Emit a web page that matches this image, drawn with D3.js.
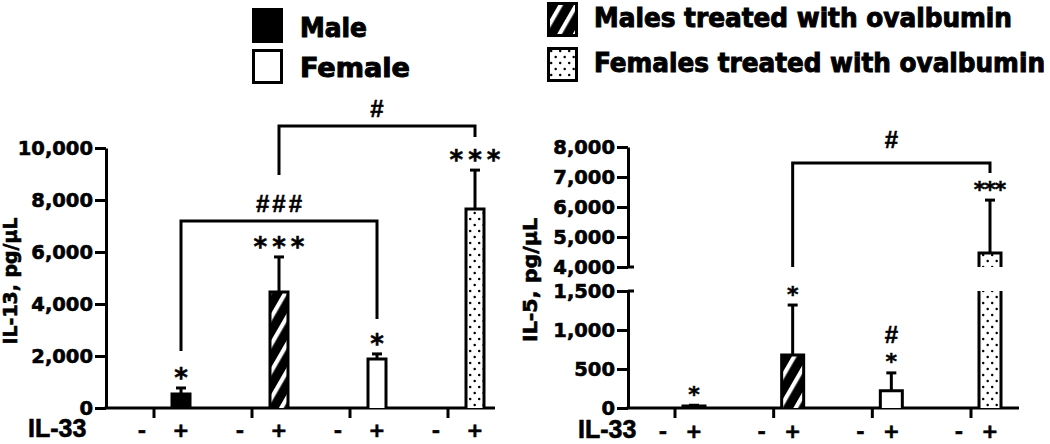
<!DOCTYPE html>
<html><head><meta charset="utf-8">
<script src="https://cdn.jsdelivr.net/npm/d3@7"></script>
<style>body{margin:0;background:#fff}svg{display:block}</style>
</head><body>
<svg id="c" width="1050" height="444"></svg>
<script>
// ---------------- DATA ----------------
const groups = ["Male", "Males treated with ovalbumin", "Female", "Females treated with ovalbumin"];
const il33Levels = ["-", "+"];

const il13Minus = [0, 0, 0, 0];
const il13Plus = [540, 4460, 1880, 7650];
const il13PlusErr = [230, 1350, 200, 1500];
const il13Sig = [["*"], ["***"], ["*"], ["***"]];
const il13Ticks = [0, 2000, 4000, 6000, 8000, 10000];

const il5Minus = [0, 0, 0, 0];
const il5Plus = [25, 680, 220, 4470];
const il5PlusErr = [10, 640, 230, 1760];
const il5Sig = [["*"], ["*"], ["*", "#"], ["***"]];
const il5LowTicks = [0, 500, 1000, 1500];
const il5HighTicks = [4000, 5000, 6000, 7000, 8000];

// comparison brackets (values in data units)
const il13Brackets = [
  {from: 0, to: 2, at: 7190, legFrom: 2190, legTo: 3420, label: "###"},
  {from: 1, to: 3, at: 10850, legFrom: 8960, legTo: 10420, label: "#"}
];
const il5Brackets = [
  {from: 1, to: 3, at: 7467, legFrom: 4000, legTo: 7133, label: "#"}
];

// ---------------- STYLE ----------------
const DV = "'DejaVu Sans', sans-serif";
const DVC = "'DejaVu Sans Condensed', 'DejaVu Sans', sans-serif";
const LB = "'Liberation Sans', Arial, sans-serif";
const groupFill = {
  "Male": "#000",
  "Males treated with ovalbumin": "url(#hatch)",
  "Female": "#fff",
  "Females treated with ovalbumin": "url(#dots)"
};

const svg = d3.select("#c");
const defs = svg.append("defs");
const hp = defs.append("pattern").attr("id", "hatch").attr("patternUnits", "userSpaceOnUse")
  .attr("width", 13.5).attr("height", 13.5).attr("patternTransform", "rotate(-60)");
hp.append("rect").attr("width", 13.5).attr("height", 13.5).attr("fill", "#000");
hp.append("rect").attr("y", 0).attr("width", 13.5).attr("height", 4.2).attr("fill", "#fff");
const dp = defs.append("pattern").attr("id", "dots").attr("patternUnits", "userSpaceOnUse")
  .attr("width", 9).attr("height", 12);
dp.append("rect").attr("width", 9).attr("height", 12).attr("fill", "#fff");
dp.append("circle").attr("cx", 2.2).attr("cy", 3).attr("r", 1.25).attr("fill", "#000");
dp.append("circle").attr("cx", 6.7).attr("cy", 9).attr("r", 1.25).attr("fill", "#000");

// ---------------- LEGEND ----------------
const legendLayout = [
  {sx: 252, sy: 8, tx: 300, ty: 37, tl: 67},
  {sx: 547, sy: 2, tx: 594, ty: 27, tl: 418},
  {sx: 252, sy: 49, tx: 300, ty: 77, tl: 110},
  {sx: 547, sy: 47, tx: 594, ty: 72, tl: 451}
];
groups.forEach((grp, i) => {
  const L = legendLayout[i];
  svg.append("rect").attr("x", L.sx + 1.5).attr("y", L.sy + 1.5).attr("width", 28).attr("height", 32)
    .attr("fill", groupFill[grp]).attr("stroke", "#000").attr("stroke-width", 3);
  svg.append("text").attr("x", L.tx).attr("y", L.ty).text(grp)
    .attr("font-family", DVC).attr("font-stretch", "condensed").attr("font-weight", "bold").attr("font-size", 26)
    .attr("stroke", "#000").attr("stroke-width", 0.9)
    .attr("textLength", L.tl).attr("lengthAdjust", "spacingAndGlyphs").attr("fill", "#000");
});

// ---------------- PANELS ----------------
function drawPanel(cfg) {
  const g = svg.append("g");
  const xg = d3.scalePoint().domain(groups).range(cfg.tickRange);
  const xi = d3.scalePoint().domain(il33Levels).range([0, cfg.plusOffset]);
  const bx = (grp, lvl) => xg(grp) + xi(lvl);
  const segs = cfg.segments;
  const yv = v => {
    for (const s of segs) if (v >= s.lo && v <= s.hi) return s.scale(v);
    return segs[segs.length - 1].scale(v);
  };

  // y axes (one per segment)
  segs.forEach(s => {
    const ax = g.append("g").attr("transform", `translate(${cfg.axisX},0)`)
      .call(d3.axisLeft(s.scale).tickValues(s.ticks).tickFormat(d3.format(","))
        .tickSize(11).tickSizeOuter(0).tickPadding(2));
    ax.select(".domain").attr("stroke", "#000").attr("stroke-width", 3);
    ax.selectAll(".tick line").attr("stroke", "#000").attr("stroke-width", 3);
    ax.selectAll(".tick text").attr("font-family", DV).attr("font-weight", "bold")
      .attr("font-size", 19.5).attr("fill", "#000").attr("stroke", "#000").attr("stroke-width", 0.6);
  });
  // axis break marks
  if (segs.length > 1) {
    [segs[0].scale(segs[0].hi), segs[1].scale(segs[1].lo)].forEach(yy => {
      g.append("line").attr("x1", cfg.axisX).attr("x2", cfg.axisX + 6).attr("y1", yy).attr("y2", yy)
        .attr("stroke", "#000").attr("stroke-width", 3);
    });
  }
  // x axis line + ticks
  const y0 = yv(0);
  g.append("line").attr("x1", cfg.axisX - 1.5).attr("x2", cfg.axisEnd).attr("y1", y0).attr("y2", y0)
    .attr("stroke", "#000").attr("stroke-width", 3);
  g.selectAll(".xt").data(groups).join("line").attr("class", "xt")
    .attr("x1", d => xg(d)).attr("x2", d => xg(d)).attr("y1", y0).attr("y2", y0 + 10)
    .attr("stroke", "#000").attr("stroke-width", 3);

  // x labels
  g.append("text").attr("x", cfg.il33X).attr("y", cfg.labelY).text("IL-33")
    .attr("font-family", LB).attr("font-weight", "bold").attr("font-size", 25).attr("fill", "#000")
    .attr("stroke", "#000").attr("stroke-width", 0.6);
  groups.forEach(grp => {
    g.append("text").attr("x", xg(grp) + cfg.minusOffset).attr("y", cfg.labelY).text("-")
      .attr("text-anchor", "middle").attr("font-family", DV).attr("font-weight", "bold").attr("font-size", 20)
      .attr("stroke", "#000").attr("stroke-width", 0.6);
    g.append("text").attr("x", bx(grp, "+")).attr("y", cfg.labelY).text("+")
      .attr("text-anchor", "middle").attr("font-family", DV).attr("font-weight", "bold").attr("font-size", 20)
      .attr("stroke", "#000").attr("stroke-width", 0.6);
  });

  // y title
  g.append("text").attr("transform", `translate(${cfg.titleX},${cfg.titleY}) rotate(-90)`)
    .text(cfg.title).attr("text-anchor", "middle").attr("font-family", DV).attr("font-weight", "bold")
    .attr("font-size", 19.5).attr("stroke", "#000").attr("stroke-width", 0.6)
    .attr("textLength", cfg.titleLen).attr("lengthAdjust", "spacingAndGlyphs");

  // bars
  const rows = [];
  groups.forEach((grp, i) => {
    rows.push({grp, lvl: "-", v: cfg.minus[i], e: 0, sig: []});
    rows.push({grp, lvl: "+", v: cfg.plus[i], e: cfg.err[i], sig: cfg.sig[i]});
  });
  const w = cfg.barW - 3;
  rows.filter(r => r.v > 0).forEach(r => {
    const cx = bx(r.grp, r.lvl), x0 = cx - w / 2, x1 = cx + w / 2;
    segs.forEach(s => {
      if (r.v <= s.lo) return;
      const top = Math.min(r.v, s.hi);
      const yb = s.scale(s.lo), yt = s.scale(top);
      g.append("rect").attr("x", x0).attr("y", yt).attr("width", w).attr("height", yb - yt)
        .attr("fill", groupFill[r.grp]);
      const p = top === r.v ? `M${x0},${yb}V${yt}H${x1}V${yb}` : `M${x0},${yb}V${yt}M${x1},${yt}V${yb}`;
      g.append("path").attr("d", p).attr("fill", "none").attr("stroke", "#000").attr("stroke-width", 3);
    });
    // error bar
    const yTop = yv(r.v + r.e), yBar = yv(r.v);
    if (r.e > 0) {
      g.append("line").attr("x1", cx).attr("x2", cx).attr("y1", yBar).attr("y2", yTop)
        .attr("stroke", "#000").attr("stroke-width", 3);
      g.append("line").attr("x1", cx - 5).attr("x2", cx + 5).attr("y1", yTop).attr("y2", yTop)
        .attr("stroke", "#000").attr("stroke-width", 3);
    }
    // significance marks
    r.sig.forEach((s, k) => {
      const cy = yTop - cfg.sigGap - k * 23;
      const isStar = s[0] === "*";
      const ls = isStar ? (s.length > 1 ? cfg.starLS : 0) : (s.length > 1 ? 3 : 0);
      g.append("text").attr("x", cx + ls / 2).attr("y", cy).text(s)
        .attr("dy", isStar ? "0.57em" : "0.36em")
        .attr("text-anchor", "middle")
        .attr("font-family", isStar ? DV : LB).attr("font-weight", "bold")
        .attr("font-size", isStar ? cfg.starSize : 24)
        .attr("stroke", "#000").attr("stroke-width", 0.5)
        .attr("letter-spacing", ls);
    });
  });

  // brackets
  cfg.brackets.forEach(b => {
    const xa = bx(groups[b.from], "+"), xb = bx(groups[b.to], "+");
    g.append("path").attr("d", `M${xa},${yv(b.legFrom)}V${yv(b.at)}H${xb}V${yv(b.legTo)}`)
      .attr("fill", "none").attr("stroke", "#000").attr("stroke-width", 3);
    const ls = b.label.length > 1 ? 3 : 0;
    g.append("text").attr("x", (xa + xb) / 2 + ls / 2).attr("y", yv(b.at) - cfg.bracketGap).text(b.label)
      .attr("dy", "0.36em").attr("text-anchor", "middle").attr("font-family", LB).attr("font-weight", "bold")
      .attr("font-size", 24).attr("stroke", "#000").attr("stroke-width", 0.5).attr("letter-spacing", ls);
  });
}

drawPanel({
  axisX: 106, axisEnd: 495, tickRange: [154, 448], plusOffset: 27, barW: 21, minusOffset: -12,
  labelY: 437, il33X: 28,
  segments: [{lo: 0, hi: 10000, scale: d3.scaleLinear().domain([0, 10000]).range([408, 148]), ticks: il13Ticks}],
  minus: il13Minus, plus: il13Plus, err: il13PlusErr, sig: il13Sig,
  title: "IL-13, pg/µL", titleX: 17, titleY: 281, titleLen: 127,
  sigGap: 16, starSize: 26, starLS: 5, brackets: il13Brackets, bracketGap: 18
});

drawPanel({
  axisX: 628, axisEnd: 1019, tickRange: [675, 971], plusOffset: 19, barW: 25, minusOffset: -12,
  labelY: 438, il33X: 578,
  segments: [
    {lo: 0, hi: 1500, scale: d3.scaleLinear().domain([0, 1500]).range([408, 291]), ticks: il5LowTicks},
    {lo: 4000, hi: 8000, scale: d3.scaleLinear().domain([4000, 8000]).range([267, 147]), ticks: il5HighTicks}
  ],
  minus: il5Minus, plus: il5Plus, err: il5PlusErr, sig: il5Sig,
  title: "IL-5, pg/µL", titleX: 537, titleY: 280, titleLen: 124,
  sigGap: 16, starSize: 22, starLS: -1, brackets: il5Brackets, bracketGap: 24
});
</script>
</body></html>
